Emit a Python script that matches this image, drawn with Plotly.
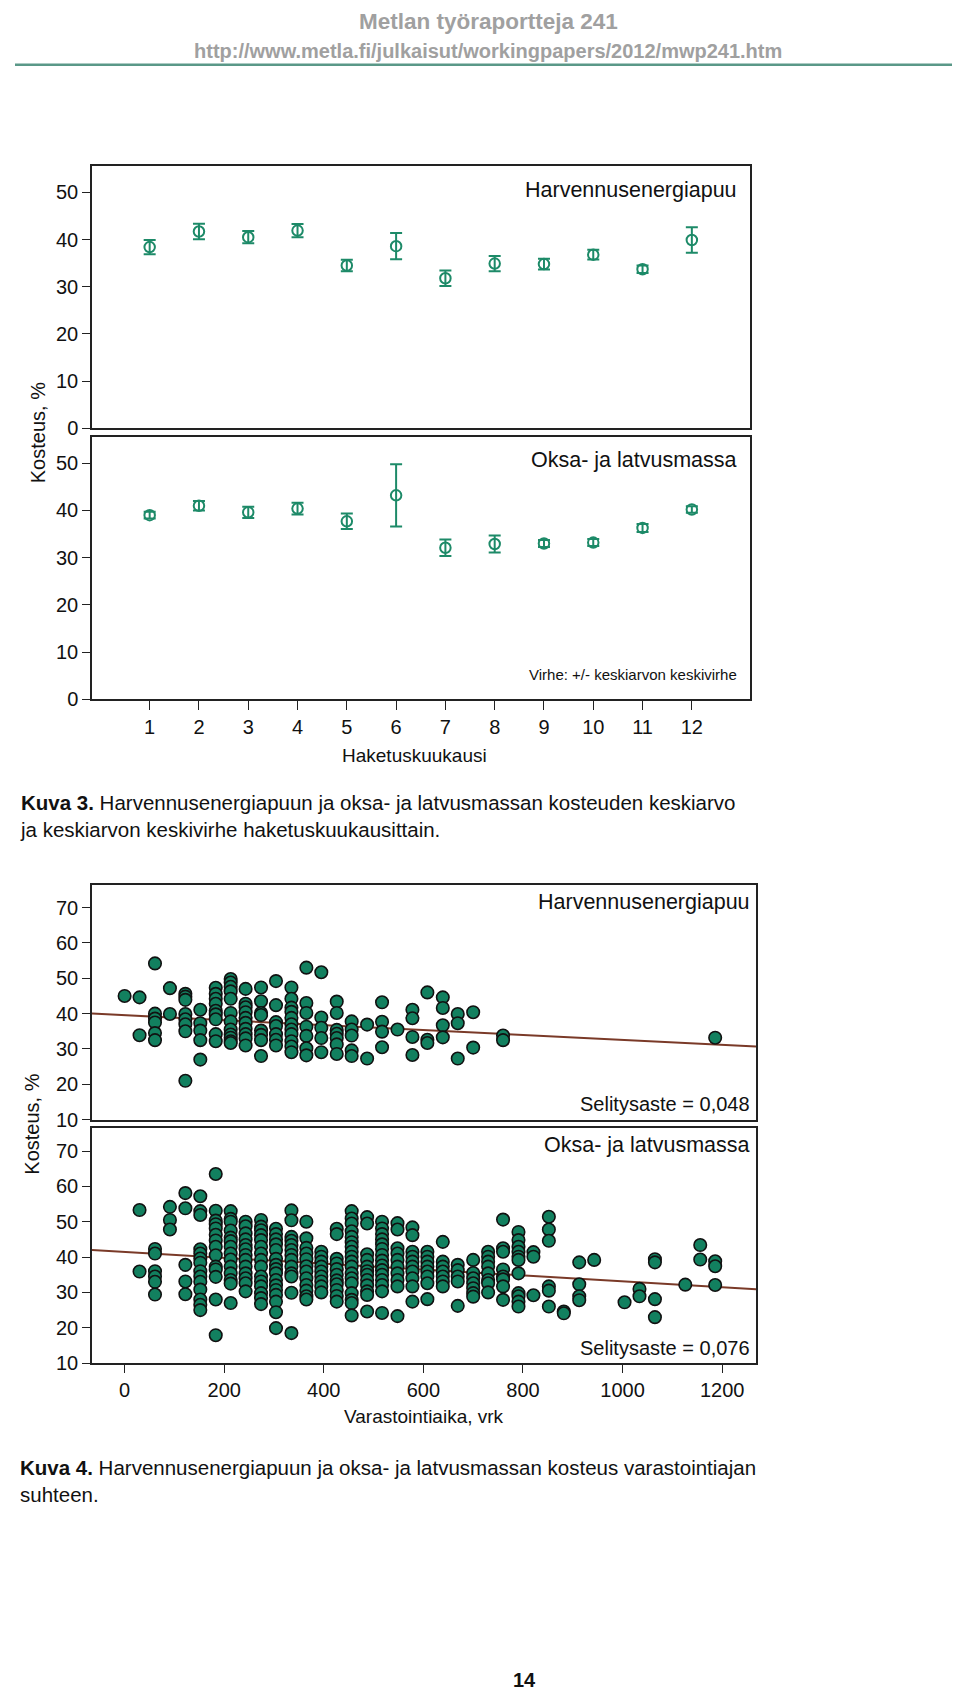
import plotly.graph_objects as go

# ---------------- data ----------------
months = [1, 2, 3, 4, 5, 6, 7, 8, 9, 10, 11, 12]
harv_mean = [38.4, 41.7, 40.5, 41.9, 34.5, 38.6, 31.8, 34.9, 34.8, 36.8, 33.7, 39.9]
harv_se = [1.5, 1.65, 1.3, 1.4, 1.2, 2.8, 1.65, 1.6, 1.15, 1.05, 0.8, 2.7]
oksa_mean = [39.0, 41.0, 39.6, 40.4, 37.7, 43.2, 32.1, 32.9, 33.0, 33.2, 36.3, 40.2]
oksa_se = [0.7, 1.0, 1.2, 1.25, 1.65, 6.6, 1.75, 1.8, 0.75, 0.75, 0.85, 0.7]

# storage time (days) and moisture (%) per sampling day
harv_days = [0, 30, 61, 91, 122, 152, 183, 213, 243, 274, 304, 335, 365, 395, 426,
             456, 487, 517, 548, 578, 608, 639, 669, 700, 760, 1186]
harv_vals = [
    [45.0],
    [44.6, 33.9],
    [54.2, 40.0, 38.6, 37.5, 34.5, 32.5],
    [47.2, 39.9],
    [45.6, 44.8, 43.9, 39.9, 38.4, 37.0, 35.0, 21.0],
    [41.1, 37.3, 35.2, 32.5, 27.0],
    [47.3, 45.6, 44.2, 42.8, 40.8, 39.8, 38.4, 34.2, 32.2],
    [49.8, 48.8, 47.6, 46.3, 44.2, 40.2, 37.8, 35.5, 34.1, 33.2, 32.2, 31.7],
    [47.0, 42.8, 41.8, 40.4, 38.8, 37.4, 35.7, 34.2, 33.0, 31.0],
    [47.4, 43.5, 40.2, 39.6, 35.2, 34.0, 32.5, 28.0],
    [49.2, 42.4, 37.6, 36.5, 34.2, 32.6, 31.0],
    [47.4, 44.2, 41.7, 40.5, 38.8, 37.0, 35.5, 34.2, 32.2, 30.7, 29.1],
    [53.0, 43.0, 40.2, 36.3, 33.7, 30.2, 28.2],
    [51.7, 38.9, 36.0, 33.1, 29.1],
    [43.4, 40.2, 35.4, 34.3, 33.1, 31.3, 28.6],
    [37.8, 35.5, 33.8, 29.6, 28.0],
    [36.9, 27.3],
    [43.2, 37.7, 34.9, 30.5],
    [35.5],
    [41.1, 38.7, 33.4, 28.3],
    [46.0, 32.6, 31.7],
    [44.6, 41.6, 36.7, 33.3],
    [39.9, 37.3, 27.3],
    [40.4, 30.4],
    [33.8, 32.5],
    [33.2],
]

oksa_days = [30, 61, 91, 122, 152, 183, 213, 243, 274, 304, 335, 365, 395, 426, 456,
             487, 517, 548, 578, 608, 639, 669, 700, 730, 760, 791, 821, 852, 882,
             913, 943, 1004, 1034, 1065, 1126, 1156, 1186]
oksa_vals = [
    [53.3, 35.9],
    [42.3, 41.0, 36.0, 34.5, 33.0, 29.4],
    [54.2, 50.5, 47.8],
    [58.1, 53.8, 37.8, 33.1, 29.5],
    [57.2, 53.0, 51.9, 42.2, 41.0, 39.6, 38.4, 36.0, 34.5, 33.0, 30.8, 28.0, 26.5, 25.0],
    [63.5, 53.1, 50.3, 49.3, 48.1, 46.3, 44.7, 42.9, 40.5, 37.3, 36.5, 34.4, 28.0, 17.9],
    [53.0, 50.8, 50.0, 47.5, 45.5, 44.5, 42.9, 41.0, 39.3, 37.3, 35.4, 33.5, 32.5, 27.0],
    [50.0, 48.7, 46.7, 45.0, 43.4, 42.2, 40.6, 39.2, 37.3, 35.4, 34.0, 32.6, 30.3],
    [50.5, 48.6, 47.6, 46.2, 44.8, 42.9, 41.0, 39.2, 37.3, 34.5, 33.1, 31.7, 29.8, 28.4, 26.7],
    [48.0, 46.5, 45.0, 43.6, 42.0, 39.5, 37.8, 36.6, 35.4, 33.5, 32.0, 30.7, 29.3, 27.4, 24.4, 19.9],
    [53.2, 50.4, 45.7, 44.6, 43.4, 42.0, 40.6, 39.2, 37.3, 35.4, 34.5, 29.9, 18.5],
    [50.0, 45.3, 42.6, 41.0, 39.4, 37.4, 35.9, 34.0, 32.1, 30.5, 28.9, 28.0],
    [41.5, 40.1, 38.7, 37.3, 35.9, 34.5, 33.1, 31.7, 30.0],
    [48.0, 46.5, 39.5, 38.2, 36.6, 35.0, 33.4, 32.3, 30.7, 29.0, 27.4],
    [53.0, 50.9, 49.5, 47.3, 45.7, 44.2, 42.9, 41.5, 40.1, 38.7, 37.3, 35.4, 34.0, 32.6, 29.8, 27.9, 27.0, 23.5],
    [51.3, 49.5, 40.8, 39.2, 37.3, 36.0, 35.0, 33.5, 32.0, 30.3, 29.3, 24.6],
    [50.0, 48.1, 46.5, 45.0, 43.6, 42.3, 40.6, 39.0, 37.6, 36.3, 35.0, 33.5, 32.1, 30.3, 24.2],
    [49.6, 47.8, 42.5, 41.0, 39.2, 37.3, 35.4, 33.5, 31.7, 23.3],
    [48.4, 46.2, 41.5, 40.1, 38.7, 37.3, 35.9, 34.0, 31.7, 27.4],
    [41.5, 40.1, 38.7, 37.3, 35.9, 34.5, 32.6, 28.1],
    [44.3, 38.7, 37.3, 35.9, 34.5, 33.1, 31.7],
    [37.8, 36.3, 34.5, 33.1, 26.2],
    [39.2, 35.5, 34.0, 32.6, 31.2, 29.8, 28.8],
    [41.5, 40.1, 38.7, 37.3, 35.4, 33.5, 32.6, 30.0],
    [50.6, 42.5, 41.5, 36.5, 34.5, 33.7, 31.7, 27.9],
    [47.1, 44.8, 42.9, 41.5, 40.1, 39.2, 35.4, 29.8, 28.9, 27.4, 26.0],
    [41.4, 40.1, 29.2],
    [51.4, 47.8, 44.6, 31.7, 30.5, 26.0],
    [24.6, 24.1],
    [38.5, 32.3, 28.9, 27.8],
    [39.2],
    [27.2],
    [31.0, 28.9],
    [39.4, 38.5, 28.1, 23.0],
    [32.2],
    [43.4, 39.3],
    [38.8, 37.4, 32.1],
]

# linear fits (intercept, slope per day)
harv_fit = [39.55, -0.00698]
oksa_fit = [41.46, -0.00833]

month_ticks = [1, 2, 3, 4, 5, 6, 7, 8, 9, 10, 11, 12]
day_ticks = [0, 200, 400, 600, 800, 1000, 1200]

# ---------------- layout helpers ----------------
W, H = 960, 1692
FONT = "Liberation Sans, Arial, Helvetica, sans-serif"
def fx(px):
    return px / W
def fy(py):
    return 1 - py / H

ERR_C = "#1d8a68"
DOT_C = "#12805f"
FIT_C = "#7a3a28"
AX_C = "#222222"

def flatten(days, vals):
    xs, ys = [], []
    for d, vs in zip(days, vals):
        for v in vs:
            xs.append(d)
            ys.append(v)
    return xs, ys

fig = go.Figure()

# Figure 3 panels
for mean, se, ax in [(harv_mean, harv_se, ("x", "y")), (oksa_mean, oksa_se, ("x2", "y2"))]:
    fig.add_trace(go.Scatter(
        x=months, y=mean, mode="markers", xaxis=ax[0], yaxis=ax[1],
        marker=dict(symbol="circle-open", size=10.5, color=ERR_C, line=dict(width=2, color=ERR_C)),
        error_y=dict(type="data", array=se, visible=True, thickness=2, width=6, color=ERR_C),
        showlegend=False, hoverinfo="skip"))

# Figure 4 panels
XR = [-65.5, 1268]
for days, vals, fit, ax in [(harv_days, harv_vals, harv_fit, ("x3", "y3")),
                            (oksa_days, oksa_vals, oksa_fit, ("x4", "y4"))]:
    xs, ys = flatten(days, vals)
    fig.add_trace(go.Scatter(
        x=[XR[0], XR[1]], y=[fit[0] + fit[1] * XR[0], fit[0] + fit[1] * XR[1]],
        mode="lines", line=dict(color=FIT_C, width=2), xaxis=ax[0], yaxis=ax[1],
        showlegend=False, hoverinfo="skip", cliponaxis=True))
    fig.add_trace(go.Scatter(
        x=xs, y=ys, mode="markers", xaxis=ax[0], yaxis=ax[1],
        marker=dict(size=12.5, color=DOT_C, line=dict(width=1.6, color="#111111"), opacity=1),
        showlegend=False, hoverinfo="skip"))

def axis_common():
    return dict(showline=True, mirror=True, linecolor=AX_C, linewidth=1.5,
                showgrid=False, zeroline=False, ticks="outside", tickcolor=AX_C,
                tickwidth=1.3, tickfont=dict(family=FONT, size=20, color="#111111"))

xa1 = axis_common(); xa1.update(domain=[fx(84), fx(742)], range=[-0.17, 13.18],
                               showticklabels=False, ticks="", anchor="y")
xa2 = axis_common(); xa2.update(domain=[fx(84), fx(742)], range=[-0.17, 13.18],
                               tickvals=month_ticks, ticklen=9, anchor="y2")
ya1 = axis_common(); ya1.update(domain=[fy(423), fy(159)], range=[0, 55.6],
                               tickvals=[0, 10, 20, 30, 40, 50], ticklen=8, anchor="x")
ya2 = axis_common(); ya2.update(domain=[fy(696), fy(432)], range=[0, 55.5],
                               tickvals=[0, 10, 20, 30, 40, 50], ticklen=8, anchor="x2")

xa3 = axis_common(); xa3.update(domain=[fx(84), fx(748)], range=XR,
                               showticklabels=False, ticks="", anchor="y3")
xa4 = axis_common(); xa4.update(domain=[fx(84), fx(748)], range=XR,
                               tickvals=day_ticks, ticklen=8, anchor="y4")
ya3 = axis_common(); ya3.update(domain=[fy(1119), fy(883)], range=[10, 76.3],
                               tickvals=[10, 20, 30, 40, 50, 60, 70], ticklen=8, anchor="x3")
ya4 = axis_common(); ya4.update(domain=[fy(1364), fy(1127)], range=[10, 76.6],
                               tickvals=[10, 20, 30, 40, 50, 60, 70], ticklen=8, anchor="x4")

annotations = []
def txt(text, x, y, size, xanchor="center", color="#111111", angle=0, yanchor="middle", align="left"):
    annotations.append(dict(text=text, x=fx(x), y=fy(y), xref="paper", yref="paper",
                            xanchor=xanchor, yanchor=yanchor, showarrow=False, textangle=angle,
                            align=align, font=dict(family=FONT, size=size, color=color)))

# header
txt("<b>Metlan työraportteja 241</b>", 480, 14, 22.5, color="#a0a0a0")
txt("<b>http://www.metla.fi/julkaisut/workingpapers/2012/mwp241.htm</b>", 480, 43, 20, color="#a0a0a0")

# figure 3 texts
txt("Harvennusenergiapuu", 731, 183, 21.5, xanchor="right")
txt("Oksa- ja latvusmassa", 731, 455, 21.5, xanchor="right")
txt("Virhe: +/- keskiarvon keskivirhe", 731, 671, 15, xanchor="right")
txt("Haketuskuukausi", 406, 752, 19)
txt("Kosteus, %", 30, 428, 20, angle=-90)
txt("<b>Kuva 3.</b> Harvennusenergiapuun ja oksa- ja latvusmassan kosteuden keskiarvo<br>"
    "ja keskiarvon keskivirhe haketuskuukausittain.", 10, 786, 20.5, xanchor="left", yanchor="top")

# figure 4 texts
txt("Harvennusenergiapuu", 744, 900, 21.5, xanchor="right")
txt("Selitysaste = 0,048", 744, 1103, 20, xanchor="right")
txt("Oksa- ja latvusmassa", 744, 1144, 21.5, xanchor="right")
txt("Selitysaste = 0,076", 744, 1349, 20, xanchor="right")
txt("Varastointiaika, vrk", 416, 1418, 19)
txt("Kosteus, %", 24, 1124, 20, angle=-90)
txt("<b>Kuva 4.</b> Harvennusenergiapuun ja oksa- ja latvusmassan kosteus varastointiajan<br>"
    "suhteen.", 10, 1455, 20.5, xanchor="left", yanchor="top")

# page number
txt("<b>14</b>", 516, 1683, 20)

shapes = [dict(type="line", xref="paper", yref="paper", x0=fx(7), x1=fx(956),
               y0=fy(57), y1=fy(57), line=dict(color="#5a9888", width=2.5))]

fig.update_layout(
    width=W, height=H, margin=dict(l=0, r=0, t=0, b=0),
    paper_bgcolor="white", plot_bgcolor="white",
    font=dict(family=FONT, size=19, color="#111111"),
    xaxis=xa1, yaxis=ya1, xaxis2=xa2, yaxis2=ya2,
    xaxis3=xa3, yaxis3=ya3, xaxis4=xa4, yaxis4=ya4,
    annotations=annotations, shapes=shapes, showlegend=False)

fig.write_html("out.html")
